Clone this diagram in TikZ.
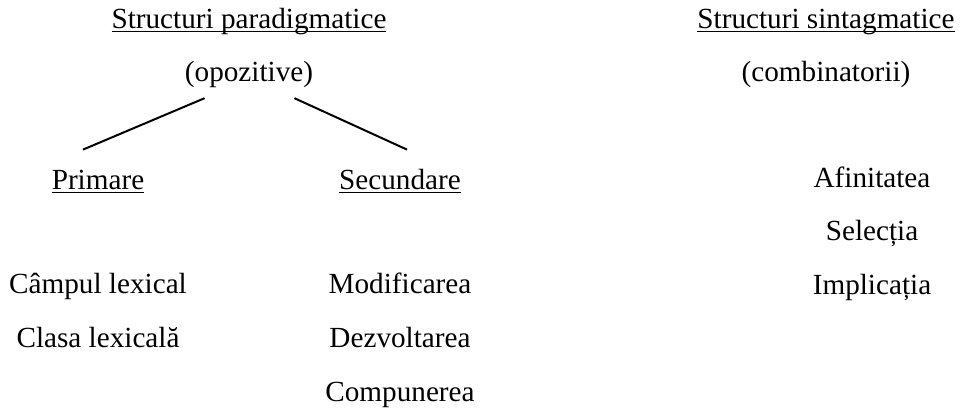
\documentclass[tikz,border=0pt]{standalone}
\usepackage{fontspec}
\setmainfont{Liberation Serif}
\usetikzlibrary{positioning, calc}
\newsavebox{\headbox}
\newcommand{\heading}[1]{\sbox{\headbox}{#1}\rlap{\rule[-2pt]{\wd\headbox}{0.5pt}}\usebox{\headbox}}

\begin{document}
\begin{tikzpicture}[
    x=0.5pt, y=-0.5pt,
    node distance=12pt,
    lbl/.style={inner sep=0pt, text height=11pt, text depth=3.5pt,
                font=\fontsize{14.6}{17}\selectfont},
    branch/.style={line width=1pt},
]
\useasboundingbox (0,0) rectangle (961,407);

% Paradigmatic structures
\node[lbl, anchor=base] (para) at (249,28) {\heading{Structuri paradigmatice}};
\node[lbl, below=of para]         (opo)   {(opozitive)};
\node[lbl, anchor=base] (pri) at (98,189)  {\heading{Primare}};
\node[lbl, anchor=base] (sec) at (400,189) {\heading{Secundare}};
\node[lbl, below=37.5pt of pri]   (camp)  {Câmpul lexical};
\node[lbl, below=of camp]         (clasa) {Clasa lexicală};
\node[lbl, below=37.5pt of sec]   (modif) {Modificarea};
\node[lbl, below=of modif]        (dezv)  {Dezvoltarea};
\node[lbl, below=of dezv]         (comp)  {Compunerea};

% Syntagmatic structures
\node[lbl, anchor=base] (sint) at (826,28) {\heading{Structuri sintagmatice}};
\node[lbl, below=of sint]         (comb)  {(combinatorii)};
\node[lbl, anchor=base] (afin) at (872,187) {Afinitatea};
\node[lbl, below=of afin]         (sel)   {Selecția};
\node[lbl, below=of sel]          (impl)  {Implicația};

% Branches
\draw[branch] ($(opo.south west)+(20,9)$) -- ($(pri.north)+(-15,-17)$);
\draw[branch] ($(opo.south east)+(-19,9)$) -- ($(sec.north)+(7,-17)$);
\end{tikzpicture}
\end{document}
